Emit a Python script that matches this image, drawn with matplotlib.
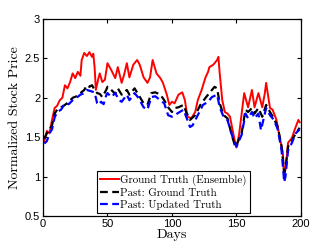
import matplotlib
matplotlib.use('Agg')
import matplotlib.pyplot as plt

# Data
red_days = [1, 3, 5, 7, 9, 11, 13, 15, 17, 19, 21, 23, 25, 27, 29, 30, 32, 34, 36, 38, 39, 40,
            41, 43, 44, 46, 48, 50, 53, 56, 58, 61, 63, 65, 67, 70, 73, 75, 78, 81, 83, 85, 88,
            91, 93, 96, 98, 100, 102, 105, 108, 110, 112, 115, 118, 120, 123, 126, 128, 129,
            132, 135, 136, 137, 139, 141, 143, 145, 147, 149, 150, 152, 155, 156, 159, 162,
            164, 167, 170, 172, 173, 176, 178, 181, 184, 186, 187, 189, 190, 193, 195, 198, 199]
red_vals = [1.45, 1.58, 1.55, 1.72, 1.87, 1.90, 1.97, 2.00, 2.16, 2.12, 2.20, 2.31, 2.25, 2.33,
            2.28, 2.48, 2.57, 2.53, 2.58, 2.52, 2.56, 2.39, 2.10, 2.25, 2.31, 2.20, 2.23, 2.44,
            2.35, 2.25, 2.39, 2.19, 2.30, 2.44, 2.26, 2.42, 2.48, 2.42, 2.26, 2.19, 2.26, 2.48,
            2.31, 2.25, 2.19, 2.04, 1.91, 1.95, 1.93, 2.04, 2.07, 1.97, 1.76, 1.74, 1.82, 1.97,
            2.10, 2.26, 2.33, 2.39, 2.42, 2.48, 2.52, 2.31, 1.97, 1.82, 1.80, 1.76, 1.59, 1.43,
            1.37, 1.53, 1.93, 2.06, 1.88, 2.10, 1.88, 2.06, 1.88, 2.06, 2.19, 1.87, 1.85, 1.72,
            1.46, 1.30, 0.97, 1.25, 1.43, 1.49, 1.59, 1.72, 1.69]

black_days = [1, 3, 5, 7, 9, 11, 14, 17, 20, 23, 26, 29, 32, 34, 36, 38, 40, 42, 44, 46, 49,
              50, 53, 56, 58, 61, 65, 67, 71, 74, 78, 81, 84, 87, 91, 94, 97, 100, 102, 105,
              109, 111, 114, 118, 122, 126, 128, 131, 133, 135, 137, 140, 143, 146, 149, 150,
              154, 157, 159, 162, 164, 167, 170, 173, 176, 179, 182, 185, 187, 188, 190, 193,
              196, 199]
black_vals = [1.48, 1.55, 1.60, 1.65, 1.80, 1.85, 1.88, 1.91, 1.95, 2.00, 2.02, 2.06, 2.10,
              2.16, 2.14, 2.16, 2.10, 2.06, 2.05, 2.01, 2.10, 2.14, 2.10, 2.05, 2.12, 2.04,
              2.10, 2.04, 2.12, 2.04, 1.93, 1.91, 2.06, 2.07, 2.04, 1.97, 1.88, 1.82, 1.87,
              1.88, 1.91, 1.82, 1.72, 1.78, 1.91, 2.00, 2.04, 2.10, 2.14, 2.12, 1.93, 1.78,
              1.74, 1.55, 1.38, 1.40, 1.55, 1.85, 1.82, 1.87, 1.80, 1.87, 1.76, 1.91, 1.82,
              1.74, 1.63, 1.38, 1.05, 1.10, 1.38, 1.46, 1.55, 1.62]

blue_days = [1, 3, 5, 7, 9, 11, 14, 17, 20, 23, 26, 29, 32, 34, 36, 38, 40, 42, 43, 45, 47,
             49, 50, 53, 56, 59, 61, 65, 67, 71, 74, 78, 81, 84, 87, 91, 94, 97, 100, 102, 106,
             109, 111, 114, 116, 120, 124, 128, 131, 135, 137, 140, 143, 147, 150, 154, 157,
             159, 162, 164, 167, 169, 173, 176, 179, 182, 185, 187, 188, 190, 193, 196, 199]
blue_vals = [1.42, 1.45, 1.55, 1.60, 1.75, 1.82, 1.85, 1.93, 1.92, 1.97, 2.00, 2.04, 2.06,
             2.10, 2.09, 2.08, 2.07, 1.93, 1.91, 1.95, 1.92, 2.03, 2.06, 2.01, 2.06, 1.97,
             1.95, 2.04, 1.97, 2.06, 2.00, 1.88, 1.85, 2.01, 2.02, 1.97, 1.93, 1.78, 1.76,
             1.78, 1.82, 1.85, 1.76, 1.63, 1.65, 1.78, 1.91, 1.95, 2.01, 2.04, 1.88, 1.76,
             1.72, 1.50, 1.38, 1.53, 1.80, 1.74, 1.82, 1.74, 1.80, 1.59, 1.87, 1.78, 1.72,
             1.60, 1.33, 0.93, 1.00, 1.33, 1.43, 1.55, 1.60]

labels = ['Ground Truth (Ensemble)', 'Past: Ground Truth', 'Past: Updated Truth']
x_ticks = [0, 50, 100, 150, 200]
y_ticks = [0.5, 1, 1.5, 2, 2.5, 3]

fig = plt.figure(figsize=(3.32, 2.49), dpi=100)
ax = fig.add_axes([0.1295, 0.1325, 0.777, 0.791])

ax.plot(red_days, red_vals, color='#ff0000', lw=1.4, label=labels[0])
ax.plot(black_days, black_vals, color='black', lw=1.6, ls=(0, (3.5, 2)), label=labels[1])
ax.plot(blue_days, blue_vals, color='#0000ff', lw=1.6, ls=(0, (3.5, 2)), label=labels[2])

ax.set_xlim(0, 200)
ax.set_ylim(0.5, 3)
ax.set_xticks(x_ticks)
ax.set_yticks(y_ticks)
ax.set_xticklabels([str(t) for t in x_ticks])
ax.set_yticklabels(['0.5', '1', '1.5', '2', '2.5', '3'])
ax.tick_params(direction='in', top=True, right=True, length=3, width=0.8,
               labelsize=8, pad=2)
for lab in ax.get_xticklabels() + ax.get_yticklabels():
    lab.set_family('Liberation Sans')
for s in ax.spines.values():
    s.set_linewidth(0.9)

ax.set_xlabel('Days', family='cmr10', fontsize=10, labelpad=0)
ax.set_ylabel('Normalized Stock Price', family='cmr10', fontsize=10, labelpad=3)

leg = ax.legend(loc='lower left', bbox_to_anchor=(0.209, 0.015), borderaxespad=0,
                prop={'family': 'cmr10', 'size': 7.9}, handlelength=1.7,
                handletextpad=0.1, labelspacing=0.2, borderpad=0.3, fancybox=False,
                framealpha=1, edgecolor='black')
leg.get_frame().set_linewidth(0.8)

fig.savefig('out.png', dpi=100)
